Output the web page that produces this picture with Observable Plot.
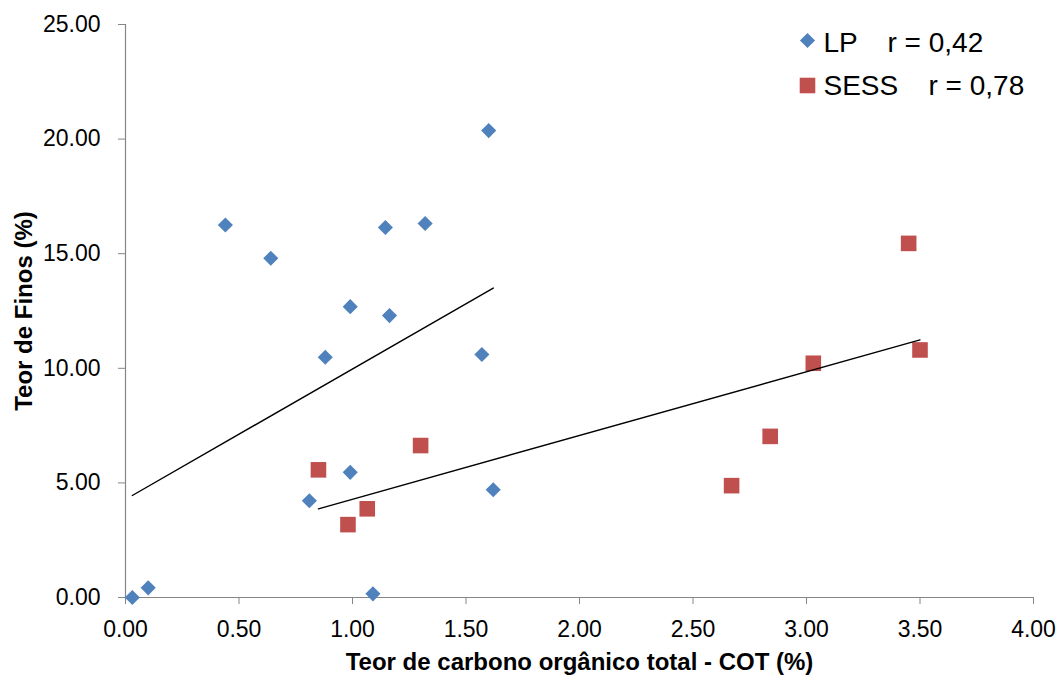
<!DOCTYPE html>
<html>
<head>
<meta charset="utf-8">
<script src="https://cdn.jsdelivr.net/npm/d3@7"></script>
<script src="https://cdn.jsdelivr.net/npm/@observablehq/plot@0.6"></script>
<style>
  html, body { margin: 0; padding: 0; background: #fff; }
  #chart svg { display: block; font-family: "Liberation Sans", Arial, sans-serif; }
</style>
</head>
<body>
<div id="chart"></div>
<script>
// LP series (diamonds)
const lpX = [0.03, 0.10, 0.44, 0.64, 0.81, 0.88, 0.99, 0.99, 1.09, 1.145, 1.163, 1.32, 1.57, 1.60, 1.62];
const lpY = [0.00, 0.42, 16.25, 14.80, 4.22, 10.48, 12.69, 5.46, 0.16, 16.14, 12.30, 16.32, 10.60, 20.37, 4.70];
// SESS series (squares)
const sessX = [0.85, 0.98, 1.065, 1.30, 2.67, 2.84, 3.03, 3.45, 3.50];
const sessY = [5.57, 3.18, 3.87, 6.63, 4.88, 7.03, 10.22, 15.45, 10.80];
// Trend lines (end points as drawn)
const lpTrendX = [0.03, 1.62];
const lpTrendY = [4.45, 13.50];
const sessTrendX = [0.85, 3.50];
const sessTrendY = [3.87, 11.24];
// Legend
const seriesNames = ["LP", "SESS"];
const rLabels = ["r = 0,42", "r = 0,78"];
// Ticks
const xTicks = [0, 0.5, 1, 1.5, 2, 2.5, 3, 3.5, 4];
const yTicks = [0, 5, 10, 15, 20, 25];
const xTitle = "Teor de carbono orgânico total - COT (%)";
const yTitle = "Teor de Finos (%)";

const blue = "#4F81BD", red = "#C0504D", axisGray = "#868686";

const lp = lpX.map((x, i) => ({x, y: lpY[i]}));
const sess = sessX.map((x, i) => ({x, y: sessY[i]}));
const lpTrend = lpTrendX.map((x, i) => ({x, y: lpTrendY[i]}));
const sessTrend = sessTrendX.map((x, i) => ({x, y: sessTrendY[i]}));

const chart = Plot.plot({
  width: 1057,
  height: 675,
  marginLeft: 125,
  marginRight: 24,
  marginTop: 24,
  marginBottom: 78,
  style: {fontFamily: "'Liberation Sans', Arial, sans-serif", background: "#fff"},
  x: {domain: [0, 4]},
  y: {domain: [0, 25]},
  marks: [
    Plot.ruleY([0], {stroke: axisGray, strokeWidth: 1.2}),
    Plot.ruleX([0], {stroke: axisGray, strokeWidth: 1.2}),
    Plot.axisX({ticks: xTicks, tickFormat: d3.format(".2f"), tickSize: 7, tickPadding: 16,
      stroke: axisGray, fill: "black", fontSize: 23, label: null}),
    Plot.axisY({ticks: yTicks, tickFormat: d3.format(".2f"), tickSize: 7, tickPadding: 18,
      stroke: axisGray, fill: "black", fontSize: 23, label: null}),
    Plot.text([xTitle], {frameAnchor: "bottom", dy: 65.3, textAnchor: "middle", lineAnchor: "middle", fontSize: 24, fontWeight: "bold", fill: "black"}),
    Plot.text([yTitle], {frameAnchor: "left", rotate: -90, dx: -101.5, textAnchor: "middle", lineAnchor: "middle", fontSize: 24, fontWeight: "bold", fill: "black"}),
    Plot.dot(lp, {x: "x", y: "y", symbol: "diamond2", r: 6.8, fill: blue, stroke: null}),
    Plot.dot(sess, {x: "x", y: "y", symbol: "square", r: 8.8, fill: red, stroke: null}),
    Plot.line(lpTrend, {x: "x", y: "y", stroke: "black", strokeWidth: 1.4}),
    Plot.line(sessTrend, {x: "x", y: "y", stroke: "black", strokeWidth: 1.4}),
    // legend
    Plot.dot([seriesNames[0]], {frameAnchor: "top-left", dx: 682, dy: 16, symbol: "diamond2", r: 6.8, fill: blue, stroke: null}),
    Plot.dot([seriesNames[1]], {frameAnchor: "top-left", dx: 682, dy: 61, symbol: "square", r: 8.8, fill: red, stroke: null}),
    Plot.text([seriesNames[0]], {frameAnchor: "top-left", dx: 698, dy: 19, textAnchor: "start", lineAnchor: "middle", fontSize: 28, fill: "black"}),
    Plot.text([seriesNames[1]], {frameAnchor: "top-left", dx: 698, dy: 62, textAnchor: "start", lineAnchor: "middle", fontSize: 28, fill: "black"}),
    Plot.text([rLabels[0]], {frameAnchor: "top-left", dx: 762, dy: 19, textAnchor: "start", lineAnchor: "middle", fontSize: 28, fill: "black"}),
    Plot.text([rLabels[1]], {frameAnchor: "top-left", dx: 803, dy: 62, textAnchor: "start", lineAnchor: "middle", fontSize: 28, fill: "black"})
  ]
});
document.getElementById("chart").appendChild(chart);
</script>
</body>
</html>
